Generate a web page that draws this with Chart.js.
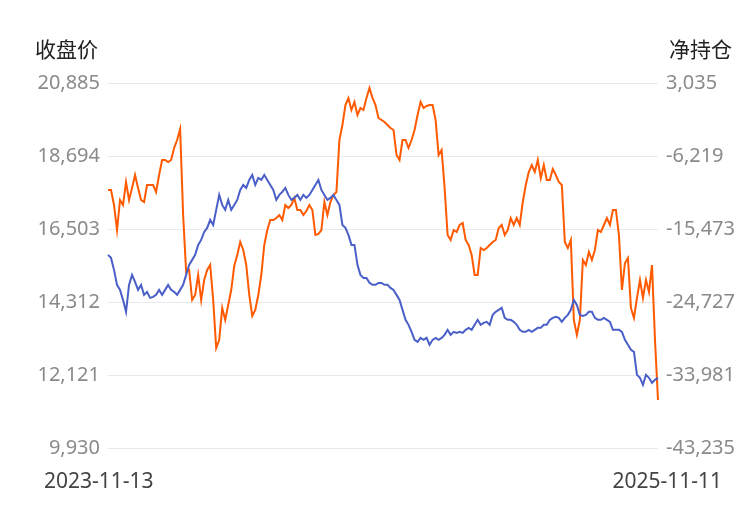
<!DOCTYPE html>
<html>
<head>
<meta charset="utf-8">
<script src="https://cdn.jsdelivr.net/npm/chart.js@4/dist/chart.umd.min.js"></script>
<style>
  body { margin: 0; background: #fff; font-family: "Noto Sans", "Noto Sans CJK SC", sans-serif; }
  #wrap { position: relative; width: 750px; height: 510px; }
  .axis-title { position: absolute; top: 33px; font-size: 21px; color: #222; font-family: "Noto Sans CJK SC", sans-serif; }
  .date { position: absolute; top: 466px; font-size: 21px; color: #444; }
</style>
</head>
<body>
<div id="wrap">
  <div class="axis-title" style="left:35px">收盘价</div>
  <div class="axis-title" style="right:18px">净持仓</div>
  <div class="date" id="d0" style="left:44px"></div>
  <div class="date" id="d1" style="right:28px"></div>
  <canvas id="chart" width="750" height="510"></canvas>
</div>
<script>
// Data Store
const DATE_LABELS = ['2023-11-13', '2025-11-11'];
const LEFT_TICKS = [9930, 12121, 14312, 16503, 18694, 20885];
const RIGHT_TICKS = [-43235, -33981, -24727, -15473, -6219, 3035];

// 收盘价
const closePrice = [
    15726, 15636, 15276, 14826, 14676, 14376, 14016, 14826, 15126, 14916, 14676, 14826, 14526, 14616, 14436, 14466,
    14526, 14676, 14526, 14676, 14826, 14676, 14616, 14526, 14676, 14826, 15126, 15426, 15576, 15726, 16026, 16176,
    16416, 16536, 16776, 16626, 17076, 17526, 17226, 17076, 17376, 17076, 17226, 17376, 17676, 17826, 17736, 17976,
    18126, 17826, 18036, 17976, 18126, 17976, 17826, 17676, 17376, 17526, 17616, 17736, 17526, 17376, 17436, 17526,
    17376, 17526, 17436, 17526, 17676, 17826, 17976, 17676, 17526, 17376, 17436, 17526, 17376, 17226, 16626, 16536,
    16326, 16026, 16026, 15426, 15126, 15036, 15036, 14886, 14826, 14826, 14886, 14886, 14826, 14826, 14736, 14676,
    14526, 14376, 14076, 13776, 13626, 13416, 13176, 13116, 13236, 13176, 13236, 13026, 13176, 13236, 13176, 13236,
    13326, 13476, 13326, 13416, 13386, 13416, 13386, 13476, 13536, 13476, 13626, 13776, 13626, 13686, 13716, 13626,
    13926, 14016, 14076, 14136, 13836, 13776, 13776, 13716, 13626, 13476, 13416, 13416, 13476, 13416, 13476, 13536,
    13536, 13626, 13626, 13776, 13836, 13866, 13836, 13716, 13836, 13926, 14076, 14376, 14226, 13926, 13896, 13926,
    14016, 14016, 13836, 13776, 13776, 13836, 13776, 13716, 13476, 13476, 13476, 13416, 13176, 13026, 12876, 12816,
    12126, 12036, 11826, 12126, 12036, 11886, 11976, 12036
];

// 净持仓
const netPosition = [
    -10529, -10529, -12431, -15600, -11797, -12431, -9515, -11797, -10276, -8628, -10276, -11797, -12051, -9895, -9895, -9895,
    -10783, -8628, -6726, -6726, -6980, -6726, -5205, -4191, -2796, -13699, -20924, -20671, -24474, -23840, -21305, -24474,
    -21939, -20671, -20037, -24474, -30559, -29545, -25488, -27009, -25108, -23206, -20164, -18769, -17121, -18136, -20037, -23840,
    -26502, -25742, -23840, -21305, -17502, -15600, -14332, -14332, -14079, -13699, -14332, -12431, -12811, -12431, -11543, -13065,
    -13065, -13699, -13191, -12431, -13065, -16234, -16107, -15600, -12051, -13699, -12051, -11163, -10783, -4191, -2289, 246,
    1134, -388, 626, -1022, -134, -388, 1134, 2401, 1134, 246, -1402, -1655, -1909, -2289, -2670, -2923,
    -6092, -6726, -4191, -4191, -5205, -4191, -2923, -1022, 626, -134, 119, 246, 246, -1655, -6092, -5459,
    -10276, -16234, -16868, -15600, -15854, -14966, -14713, -16868, -17502, -18769, -21305, -21305, -17882, -18136, -17882, -17502,
    -17121, -16868, -15347, -14966, -16234, -15600, -14079, -14966, -14079, -14966, -12051, -9895, -8247, -7360, -8247, -6726,
    -9008, -7360, -9262, -9262, -7867, -8628, -9515, -9895, -17121, -17882, -16868, -27009, -28911, -27009, -19403, -20037,
    -18389, -19403, -18136, -15600, -15854, -14966, -14079, -14966, -13065, -13065, -16234, -23206, -19784, -19150, -25488, -26756,
    -24220, -21939, -24220, -21939, -23460, -20037, -29545, -37151
];

const n = Math.max(closePrice.length, netPosition.length);
const labels = Array.from({ length: n }, (_, i) => i === 0 ? DATE_LABELS[0] : (i === n - 1 ? DATE_LABELS[1] : ''));
document.getElementById('d0').textContent = DATE_LABELS[0];
document.getElementById('d1').textContent = DATE_LABELS[1];

const fmt = v => Math.round(v).toLocaleString('en-US');
const tickFont = { size: 20, family: 'Noto Sans' };

new Chart(document.getElementById('chart').getContext('2d'), {
    type: 'line',
    data: {
        labels: labels,
        datasets: [
            { label: '收盘价', data: closePrice, yAxisID: 'y', borderColor: '#4a5fc8', borderWidth: 2, pointRadius: 0, tension: 0 },
            { label: '净持仓', data: netPosition, yAxisID: 'y1', borderColor: '#ff5a00', borderWidth: 2, pointRadius: 0, tension: 0 }
        ]
    },
    options: {
        responsive: false,
        animation: false,
        layout: { padding: { top: 83, left: 0, right: 0, bottom: 62 } },
        plugins: { legend: { display: false }, tooltip: { enabled: false } },
        scales: {
            x: { display: false },
            y: {
                position: 'left', min: LEFT_TICKS[0], max: LEFT_TICKS[LEFT_TICKS.length - 1],
                afterBuildTicks: axis => { axis.ticks = LEFT_TICKS.map(v => ({ value: v })); },
                afterFit: axis => { axis.width = 108; },
                grid: { color: '#e6e9f0', drawTicks: false },
                border: { display: false },
                ticks: { color: '#8a8a8a', font: tickFont, padding: 8, callback: v => fmt(v) }
            },
            y1: {
                position: 'right', min: RIGHT_TICKS[0], max: RIGHT_TICKS[RIGHT_TICKS.length - 1],
                afterBuildTicks: axis => { axis.ticks = RIGHT_TICKS.map(v => ({ value: v })); },
                afterFit: axis => { axis.width = 92; },
                grid: { display: false, drawTicks: false },
                border: { display: false },
                ticks: { color: '#8a8a8a', font: tickFont, padding: 8, callback: v => fmt(v) }
            }
        }
    }
});
</script>
</body>
</html>
